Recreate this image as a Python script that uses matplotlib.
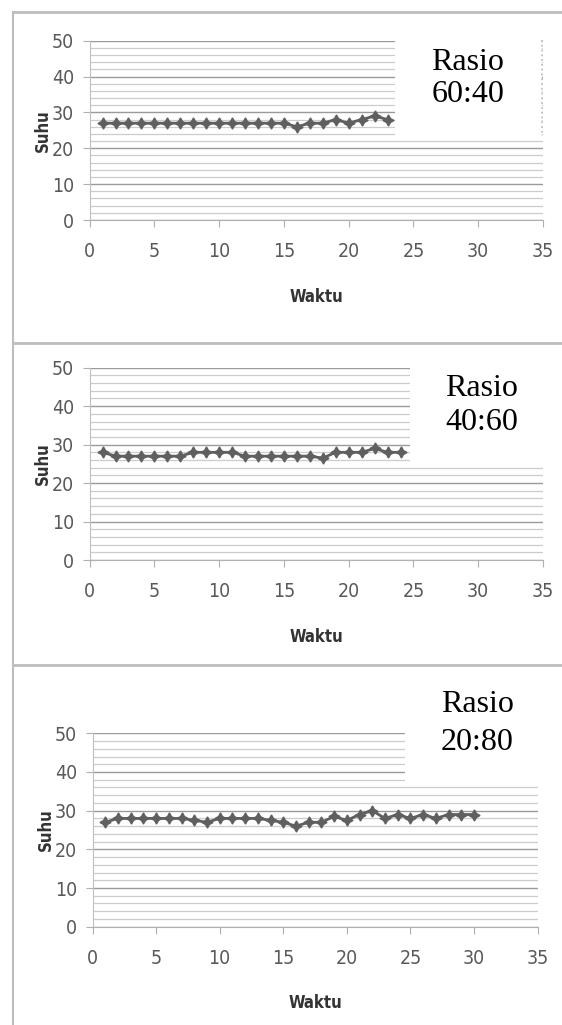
import matplotlib.pyplot as plt
from matplotlib.patches import Rectangle
from matplotlib.lines import Line2D
import numpy as np

# data (Suhu per Waktu) for each ratio
waktu_6040 = list(range(1, 24))
suhu_6040 = [27, 27, 27, 27, 27, 27, 27, 27, 27, 27, 27, 27, 27, 27, 27,
             26, 27, 27, 28, 27, 28, 29, 28]

waktu_4060 = list(range(1, 25))
suhu_4060 = [28, 27, 27, 27, 27, 27, 27, 28, 28, 28, 28, 27, 27, 27, 27,
             27, 27, 26.5, 28, 28, 28, 29, 28, 28]

waktu_2080 = list(range(1, 31))
suhu_2080 = [27, 28, 28, 28, 28, 28, 28, 27.5, 27, 28, 28, 28, 28, 27.5, 27,
             26, 27, 27, 28.5, 27.5, 29, 30, 28, 29, 28, 29, 28, 29, 29, 29]

ratios = ["60:40", "40:60", "20:80"]
x_ticks = [0, 5, 10, 15, 20, 25, 30, 35]
y_ticks = [0, 10, 20, 30, 40, 50]

plt.rcParams['font.family'] = ['DejaVu Sans']
plt.rcParams['font.stretch'] = 'condensed'

W, H = 562, 1025
fig = plt.figure(figsize=(W / 100, H / 100), dpi=100)

grey = '#595959'


def px(x0, y0, x1, y1):
    # pixel box (top-left origin) -> figure fraction rect
    return [x0 / W, 1 - y1 / H, (x1 - x0) / W, (y1 - y0) / H]


def draw_panel(rect, x, y):
    ax = fig.add_axes(rect)
    ax.set_xlim(0, 35)
    ax.set_ylim(0, 50)
    ax.set_xticks(x_ticks)
    ax.set_yticks(y_ticks)
    ax.set_yticks(np.arange(0, 51, 2), minor=True)
    ax.grid(True, which='major', axis='y', color='#9a9a9a', lw=1.0)
    ax.grid(True, which='minor', axis='y', color='#cccccc', lw=0.9)
    ax.tick_params(axis='y', which='minor', length=0)
    ax.tick_params(which='major', length=5, color='#b0b0b0', direction='out',
                   labelcolor=grey, labelsize=14)
    ax.tick_params(axis='x', pad=11)
    ax.tick_params(axis='y', pad=6)
    for s in ['top', 'right']:
        ax.spines[s].set_visible(False)
    ax.spines['left'].set_color('#c0c0c0')
    ax.spines['bottom'].set_color('#b0b0b0')
    ax.set_axisbelow(True)
    ax.plot(x, y, color='#5f5f5f', lw=2, marker=(4, 1, 0), markersize=8,
            clip_on=False)
    ax.set_ylabel('Suhu', fontsize=12, fontweight='bold', color='#333333',
                  labelpad=0)
    ax.set_xlabel('Waktu', fontsize=12, fontweight='bold', color='#333333',
                  labelpad=19)
    return ax


draw_panel(px(89.6, 40.7, 543, 220), waktu_6040, suhu_6040)
draw_panel(px(89.6, 367.7, 543, 560), waktu_4060, suhu_4060)
draw_panel(px(92.5, 733.3, 537.6, 926.7), waktu_2080, suhu_2080)

# white text boxes pasted over the charts
boxes = [(395, 20, 542, 136), (410, 350, 555, 462), (405, 672, 555, 782)]
text_pos = [(468, 62, 95), (482, 388, 423), (477, 705, 742)]
for (x0, y0, x1, y1), (tx, ty1, ty2), ratio in zip(boxes, text_pos, ratios):
    r = px(x0, y0, x1, y1)
    fig.add_artist(Rectangle((r[0], r[1]), r[2], r[3], transform=fig.transFigure,
                             facecolor='white', edgecolor='none', zorder=5))
    for txt, ty in [("Rasio", ty1), (ratio, ty2)]:
        fig.text(tx / W, 1 - ty / H, txt, ha='center', va='center', fontsize=23,
                 family='Liberation Serif', fontstretch='normal', zorder=6)

# dotted edge of the first text box
fig.add_artist(Line2D([542 / W, 542 / W], [1 - 40 / H, 1 - 136 / H],
                      transform=fig.transFigure, color='#c0c0c0', lw=1.3,
                      ls=':', zorder=6))

# panel borders
bc = '#bdbdbd'
fig.add_artist(Line2D([13 / W, 13 / W], [0, 1 - 12 / H], transform=fig.transFigure,
                      color=bc, lw=1.5, zorder=7))
for yy in [12, 343, 665]:
    fig.add_artist(Line2D([13 / W, 1], [1 - yy / H, 1 - yy / H],
                          transform=fig.transFigure, color=bc, lw=2, zorder=7))

fig.savefig('out.png', dpi=100)
